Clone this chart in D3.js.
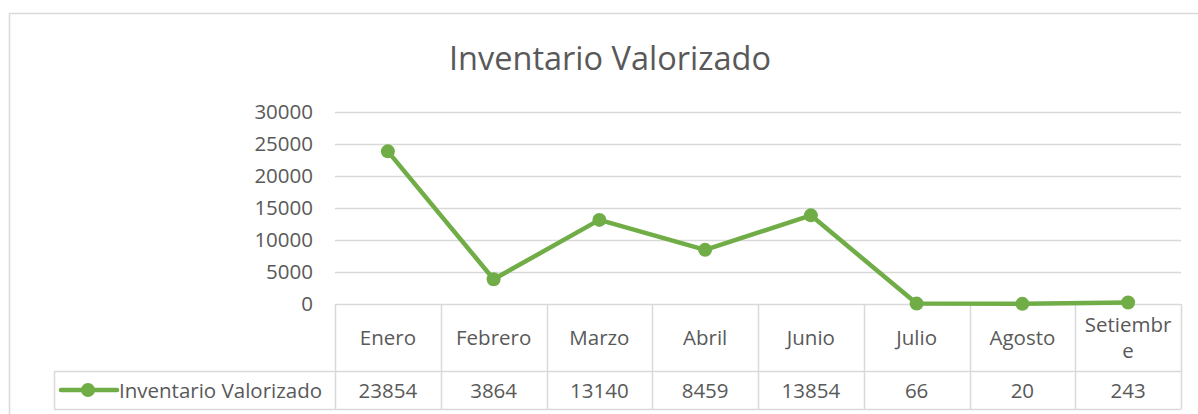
<!DOCTYPE html>
<html>
<head>
<meta charset="utf-8">
<script src="https://cdn.jsdelivr.net/npm/d3@7"></script>
<style>
  body { margin: 0; background: #fff; }
  svg { display: block; font-family: "Open Sans", "Noto Sans", sans-serif; }
</style>
</head>
<body>
<div id="chart"></div>
<script>
// data
const months = ['Enero', 'Febrero', 'Marzo', 'Abril', 'Junio', 'Julio', 'Agosto', 'Setiembre'];
const monthLines = [['Enero'], ['Febrero'], ['Marzo'], ['Abril'], ['Junio'], ['Julio'], ['Agosto'], ['Setiembr', 'e']];
const values = [23854, 3864, 13140, 8459, 13854, 66, 20, 243];
const yTicks = [0, 5000, 10000, 15000, 20000, 25000, 30000];
const seriesName = 'Inventario Valorizado';

const width = 1198, height = 414;
const green = '#70ad47', gridColor = '#d9d9d9', textColor = '#595959';
const fs = 20.5;

const plot = { left: 335, right: 1181, top: 112, bottom: 304 };
const headerBottom = 371, tableBottom = 409, legendLeft = 54;

const svg = d3.select('#chart').append('svg')
  .attr('width', width)
  .attr('height', height);

// outer chart border
svg.append('path')
  .attr('d', `M9.5,${height} V13.5 H${width}`)
  .attr('fill', 'none')
  .attr('stroke', gridColor)
  .attr('stroke-width', 1.5);

svg.append('text')
  .attr('x', 610)
  .attr('y', 70)
  .attr('text-anchor', 'middle')
  .attr('fill', textColor)
  .attr('font-size', 32.5)
  .text(seriesName);

const x = d3.scaleBand().domain(months).range([plot.left, plot.right]);
const y = d3.scaleLinear().domain([0, 30000]).range([plot.bottom, plot.top]);

// gridlines
svg.append('g')
  .selectAll('line')
  .data(yTicks.filter(d => d > 0))
  .join('line')
  .attr('x1', plot.left)
  .attr('x2', plot.right)
  .attr('y1', d => Math.round(y(d)) + 0.5)
  .attr('y2', d => Math.round(y(d)) + 0.5)
  .attr('stroke', gridColor)
  .attr('stroke-width', 1.5);

// y axis labels
const yAxis = svg.append('g')
  .attr('transform', `translate(${plot.left - 22},0)`)
  .call(d3.axisLeft(y).tickValues(yTicks).tickSize(0).tickPadding(0).tickFormat(d3.format('d')));
yAxis.select('.domain').remove();
yAxis.selectAll('text')
  .attr('fill', textColor)
  .attr('font-size', fs)
  .attr('font-family', '"Open Sans", "Noto Sans", sans-serif');

// data table grid
const table = svg.append('g')
  .attr('stroke', gridColor)
  .attr('stroke-width', 1.5)
  .attr('fill', 'none');

const colEdges = months.map(m => x(m)).concat([plot.right]);
table.selectAll('.vline')
  .data(colEdges)
  .join('line')
  .attr('class', 'vline')
  .attr('x1', d => Math.round(d) + 0.5)
  .attr('x2', d => Math.round(d) + 0.5)
  .attr('y1', plot.bottom)
  .attr('y2', tableBottom);

table.append('line')
  .attr('x1', plot.left).attr('x2', plot.right)
  .attr('y1', plot.bottom + 0.5).attr('y2', plot.bottom + 0.5);
table.append('line')
  .attr('x1', legendLeft).attr('x2', plot.right)
  .attr('y1', headerBottom + 0.5).attr('y2', headerBottom + 0.5);
table.append('line')
  .attr('x1', legendLeft).attr('x2', plot.right)
  .attr('y1', tableBottom + 0.5).attr('y2', tableBottom + 0.5);
table.append('line')
  .attr('x1', legendLeft + 0.5).attr('x2', legendLeft + 0.5)
  .attr('y1', headerBottom).attr('y2', tableBottom);

// header row
const headerMid = (plot.bottom + headerBottom) / 2;
svg.append('g')
  .selectAll('text')
  .data(monthLines)
  .join('text')
  .attr('x', (d, i) => x(months[i]) + x.bandwidth() / 2)
  .attr('text-anchor', 'middle')
  .attr('fill', textColor)
  .attr('font-size', fs)
  .each(function (d) {
    const t = d3.select(this);
    const lh = 26;
    const y0 = headerMid + 7 - (d.length - 1) * lh / 2;
    d.forEach((line, j) => {
      t.append('tspan').attr('x', t.attr('x')).attr('y', y0 + j * lh).text(line);
    });
  });

// value row
const rowMid = (headerBottom + tableBottom) / 2;
svg.append('g')
  .selectAll('text')
  .data(values)
  .join('text')
  .attr('x', (d, i) => x(months[i]) + x.bandwidth() / 2)
  .attr('y', rowMid + 7.5)
  .attr('text-anchor', 'middle')
  .attr('fill', textColor)
  .attr('font-size', fs)
  .text(d => d);

// legend key in table
svg.append('line')
  .attr('x1', 61).attr('x2', 117)
  .attr('y1', rowMid).attr('y2', rowMid)
  .attr('stroke', green)
  .attr('stroke-width', 4.5)
  .attr('stroke-linecap', 'round');
svg.append('circle')
  .attr('cx', 88).attr('cy', rowMid).attr('r', 7)
  .attr('fill', green);
svg.append('text')
  .attr('x', 119)
  .attr('y', rowMid + 7.5)
  .attr('fill', textColor)
  .attr('font-size', fs)
  .text(seriesName);

// series line
const line = d3.line()
  .x((d, i) => x(months[i]) + x.bandwidth() / 2)
  .y(d => y(d));

svg.append('path')
  .datum(values)
  .attr('d', line)
  .attr('fill', 'none')
  .attr('stroke', green)
  .attr('stroke-width', 4.5)
  .attr('stroke-linejoin', 'round');

svg.append('g')
  .selectAll('circle')
  .data(values)
  .join('circle')
  .attr('cx', (d, i) => x(months[i]) + x.bandwidth() / 2)
  .attr('cy', d => y(d))
  .attr('r', 7)
  .attr('fill', green);
</script>
</body>
</html>
